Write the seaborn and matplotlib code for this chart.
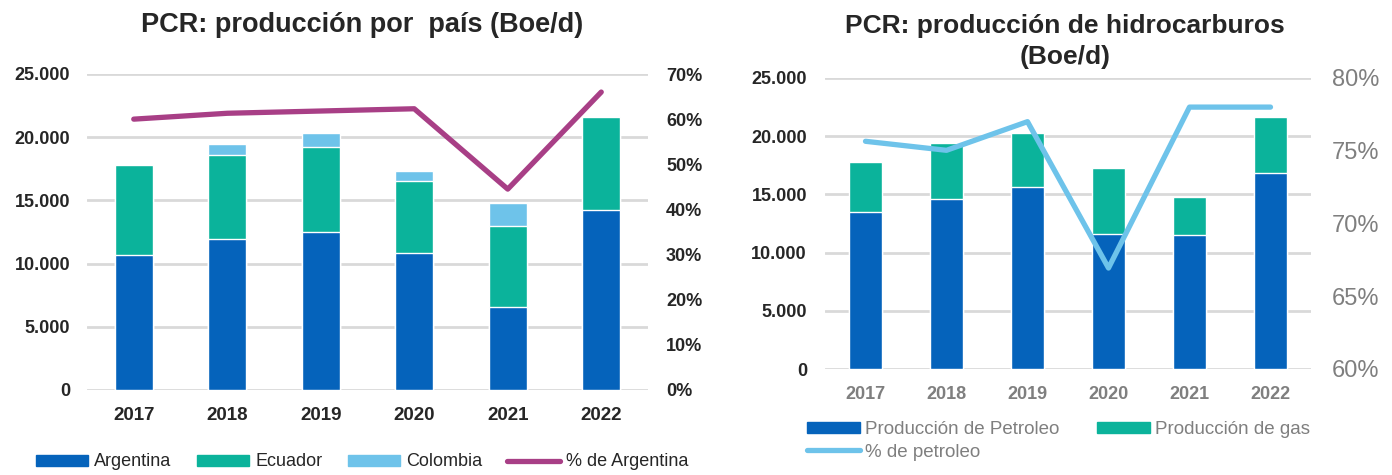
import numpy as np
import pandas as pd
import matplotlib
matplotlib.use("Agg")
import matplotlib.pyplot as plt
from matplotlib.ticker import FuncFormatter, MultipleLocator
from matplotlib.patches import Patch
from matplotlib.lines import Line2D
import seaborn as sns

# datos
years = ["2017", "2018", "2019", "2020", "2021", "2022"]
argentina = [10680, 11950, 12500, 10800, 6540, 14240]
ecuador = [7120, 6650, 6750, 5750, 6430, 7360]
colombia = [0, 900, 1050, 780, 1800, 0]
pct_argentina = [0.600, 0.613, 0.618, 0.623, 0.445, 0.660]

petroleo = [13460, 14580, 15600, 11600, 11480, 16800]
gas = [4320, 4860, 4670, 5700, 3270, 4820]
pct_petroleo = [0.7565, 0.7503, 0.770, 0.6694, 0.780, 0.780]

BLUE = "#0563BB"
TEAL = "#0BB39B"
LIGHT = "#6EC3EA"
MAGENTA = "#A83F86"
GRAY = "#7F7F7F"
GRID = "#D9D9D9"

sns.set_style("white")
plt.rcParams["font.family"] = ["Liberation Sans", "DejaVu Sans"]

W, H = 1392, 475
fig = plt.figure(figsize=(W / 100, H / 100), dpi=100)


def box(x0, x1, ytop, ybot):
    return [x0 / W, 1 - ybot / H, (x1 - x0) / W, (ybot - ytop) / H]


def thousands(v, pos):
    return f"{v:,.0f}".replace(",", ".")


def pct(v, pos):
    return f"{v * 100:.0f}%"


def style_axis(ax):
    for s in ax.spines.values():
        s.set_visible(False)
    ax.set_xlabel("")
    ax.set_ylabel("")
    ax.tick_params(length=0)


# ---- grafico izquierdo: produccion por pais
df1 = pd.DataFrame({"year": years, "arg": argentina, "ecu": ecuador, "col": colombia})
df1["s2"] = df1["arg"] + df1["ecu"]
df1["s3"] = df1["s2"] + df1["col"]

ax1 = fig.add_axes(box(87, 648, 74, 390))
sns.barplot(data=df1, x="year", y="s3", color=LIGHT, width=0.41, saturation=1, ax=ax1)
sns.barplot(data=df1, x="year", y="s2", color=TEAL, width=0.41, saturation=1, ax=ax1)
sns.barplot(data=df1, x="year", y="arg", color=BLUE, width=0.41, saturation=1, ax=ax1)
ax1.set_ylim(0, 25000)
ax1.yaxis.set_major_locator(MultipleLocator(5000))
ax1.yaxis.set_major_formatter(FuncFormatter(thousands))
ax1.yaxis.grid(True, color=GRID, lw=2)
ax1.set_axisbelow(True)
style_axis(ax1)
ax1.tick_params(axis="y", pad=12, labelsize=13)
ax1.tick_params(axis="x", pad=12, labelsize=13.5)
for t in ax1.get_xticklabels() + ax1.get_yticklabels():
    t.set_fontweight("bold")

ax1b = ax1.twinx()
sns.lineplot(x=np.arange(len(years)), y=pct_argentina, color=MAGENTA, lw=3.8,
             solid_capstyle="round", ax=ax1b)
ax1b.set_ylim(0, 0.7)
ax1b.set_xlim(-0.5, len(years) - 0.5)
ax1b.yaxis.set_major_locator(MultipleLocator(0.1))
ax1b.yaxis.set_major_formatter(FuncFormatter(pct))
style_axis(ax1b)
ax1b.tick_params(axis="y", pad=13, labelsize=13)
for t in ax1b.get_yticklabels():
    t.set_fontweight("bold")

fig.text(362 / W, 1 - 32 / H, "PCR: producción por  país (Boe/d)", ha="center",
         va="baseline", fontsize=19.5, fontweight="bold")

h1 = [Patch(color=BLUE), Patch(color=TEAL), Patch(color=LIGHT),
      Line2D([], [], color=MAGENTA, lw=3.8, solid_capstyle="round")]
fig.legend(h1, ["Argentina", "Ecuador", "Colombia", "% de Argentina"], loc="center",
           bbox_to_anchor=(362 / W, 1 - 462 / H), ncol=4, frameon=False, fontsize=13,
           handlelength=2.9, handleheight=0.55, handletextpad=0.33, columnspacing=1.4,
           borderaxespad=0, borderpad=0)

# ---- grafico derecho: produccion de hidrocarburos
df2 = pd.DataFrame({"year": years, "pet": petroleo, "gas": gas})
df2["total"] = df2["pet"] + df2["gas"]

ax2 = fig.add_axes(box(825, 1311, 78, 369))
sns.barplot(data=df2, x="year", y="total", color=TEAL, width=0.4, saturation=1, ax=ax2)
sns.barplot(data=df2, x="year", y="pet", color=BLUE, width=0.4, saturation=1, ax=ax2)
ax2.set_ylim(0, 25000)
ax2.yaxis.set_major_locator(MultipleLocator(5000))
ax2.yaxis.set_major_formatter(FuncFormatter(thousands))
ax2.yaxis.grid(True, color=GRID, lw=2)
ax2.set_axisbelow(True)
style_axis(ax2)
ax2.tick_params(axis="y", pad=13, labelsize=13)
ax2.tick_params(axis="x", pad=12, labelsize=13, labelcolor=GRAY)
for t in ax2.get_xticklabels() + ax2.get_yticklabels():
    t.set_fontweight("bold")

ax2b = ax2.twinx()
sns.lineplot(x=np.arange(len(years)), y=pct_petroleo, color=LIGHT, lw=3.8,
             solid_capstyle="round", ax=ax2b)
ax2b.set_ylim(0.6, 0.8)
ax2b.set_xlim(-0.5, len(years) - 0.5)
ax2b.yaxis.set_major_locator(MultipleLocator(0.05))
ax2b.yaxis.set_major_formatter(FuncFormatter(pct))
style_axis(ax2b)
ax2b.tick_params(axis="y", pad=15, labelsize=17, labelcolor=GRAY)

fig.text(1065 / W, 1 - 33 / H, "PCR: producción de hidrocarburos", ha="center",
         va="baseline", fontsize=19, fontweight="bold")
fig.text(1065 / W, 1 - 64 / H, "(Boe/d)", ha="center", va="baseline",
         fontsize=19, fontweight="bold")

h2 = [Patch(color=BLUE), Line2D([], [], color=LIGHT, lw=3.8, solid_capstyle="round"),
      Patch(color=TEAL)]
leg2 = fig.legend(h2, ["Producción de Petroleo", "% de petroleo", "Producción de gas"],
                  loc="upper left", bbox_to_anchor=(807 / W, 1 - 421 / H), ncol=2,
                  frameon=False, fontsize=13.5, handlelength=2.8, handleheight=0.55,
                  handletextpad=0.3, columnspacing=2.0, labelspacing=0.3,
                  borderaxespad=0, borderpad=0)
for t in leg2.get_texts():
    t.set_color(GRAY)

fig.savefig("out.png", dpi=100)
